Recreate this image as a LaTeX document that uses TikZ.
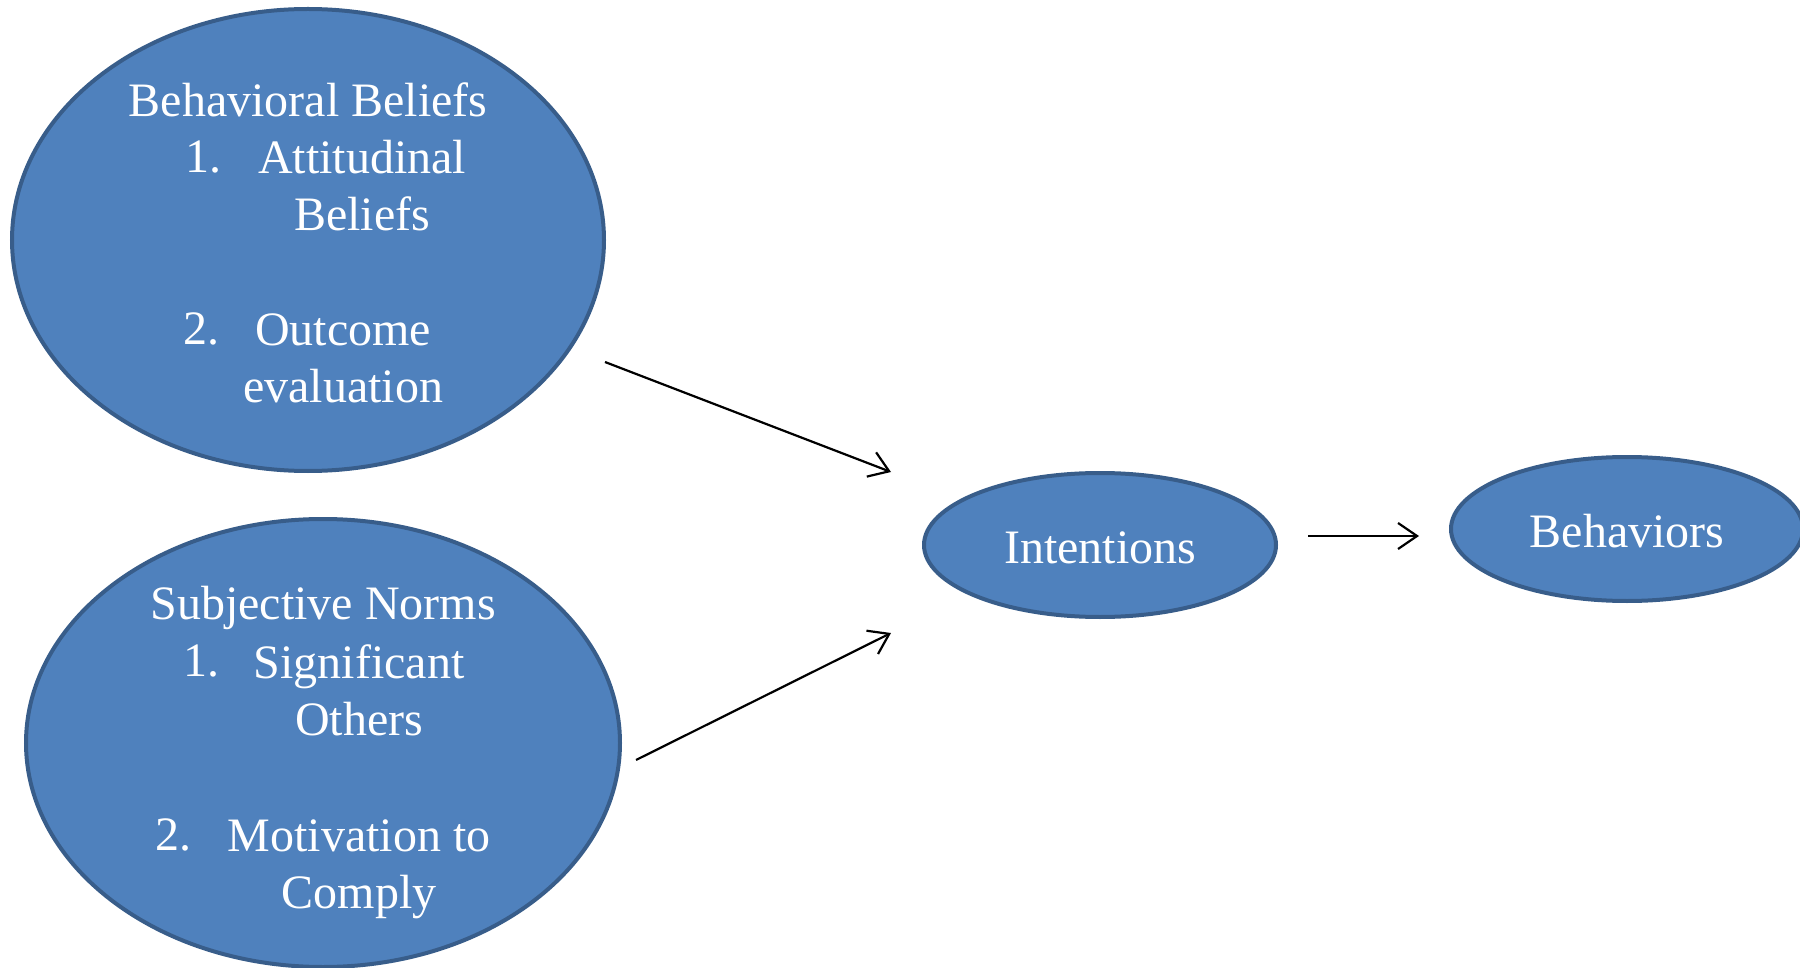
\documentclass[tikz,border=0pt]{standalone}
\usepackage{fontspec}
\setmainfont{Liberation Serif}
\usetikzlibrary{shapes.geometric,arrows.meta}

\definecolor{blobfill}{HTML}{4F81BD}
\definecolor{blobedge}{HTML}{385D8A}

\tikzset{
    blob/.style={ellipse, draw=blobedge, fill=blobfill, line width=4pt, inner sep=0pt},
    big/.style={blob, minimum width=592pt, minimum height=462pt},
    small/.style={blob, minimum width=352pt, minimum height=144pt},
    lbl/.style={text=white, font=\fontsize{48}{57}\selectfont, align=center, inner sep=0pt},
    link/.style={line width=2.2pt, -{Straight Barb[length=19pt,width=26pt,line width=2.2pt]}},
}

\begin{document}
\begin{tikzpicture}[x=1pt, y=-1pt]
\useasboundingbox (0,0) rectangle (1800,968);

\node[big] (beliefs) at (308,240) {};
\node[big, minimum width=594pt, minimum height=448pt] (norms) at (323,743) {};
\node[small] (intent) at (1100,545) {};
\node[small] (behave) at (1627,529) {};

% text in the ellipses
\node[lbl] (bbtitle) at (308,100) {Behavioral Beliefs};
\node[lbl] (bbone) at (203,157) {1.};
\node[lbl] (bbatt) at (362,186) {Attitudinal\\Beliefs};
\node[lbl] (bbtwo) at (201,329) {2.};
\node[lbl] (bbout) at (343,358) {Outcome\\evaluation};

\node[lbl] (sntitle) at (323,608) {Subjective Norms};
\node[lbl] (snone) at (201,661) {1.};
\node[lbl] (snsig) at (359,690) {Significant\\Others};
\node[lbl] (sntwo) at (173,835) {2.};
\node[lbl] (snmot) at (359,869) {Motivation to\\Comply};

\node[lbl] at ([yshift=-3pt]intent.center) {Intentions};
\node[lbl] at ([yshift=-2pt]behave.center) {Behaviors};

% arrows
\coordinate (bbout1) at (605,362);
\coordinate (intin1) at (891,472);
\coordinate (snout1) at (636,760);
\coordinate (intin2) at (891,633);
\coordinate (intout) at (1308,536);
\coordinate (behin) at (1419,536);

\draw[link] (bbout1) -- (intin1);
\draw[link] (snout1) -- (intin2);
\draw[link] (intout) -- (behin);
\end{tikzpicture}
\end{document}
